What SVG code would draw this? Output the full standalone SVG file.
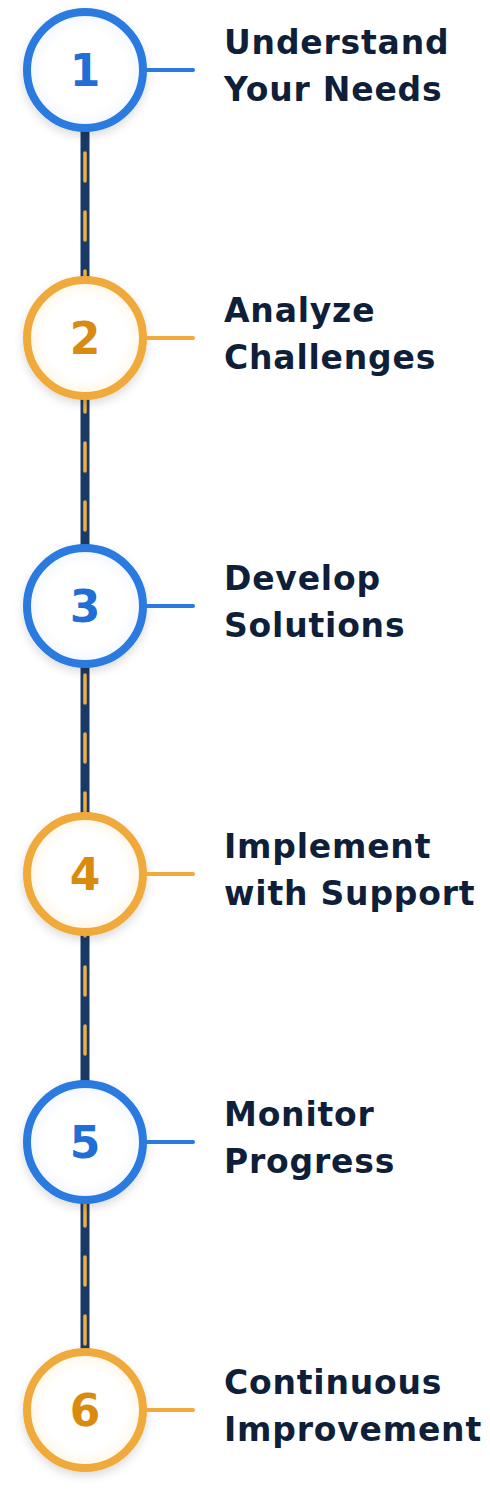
<svg xmlns="http://www.w3.org/2000/svg" width="490" height="1490" viewBox="0 0 490 1490">
<style>
.rail{stroke:#1a3a66;stroke-width:9;fill:none}
.dash{stroke:#f0ae44;stroke-width:3.5;fill:none;stroke-linecap:round;stroke-dasharray:28 31}
.ringB{fill:url(#gB);stroke:#2a7ae0;stroke-width:8}
.ringO{fill:url(#gO);stroke:#f0a93b;stroke-width:8}
.tickB{stroke:#2a7ae0;stroke-width:4;stroke-linecap:round}
.tickO{stroke:#f0a93b;stroke-width:4;stroke-linecap:round}
.numB{font-family:"DejaVu Sans",sans-serif;font-weight:bold;font-size:44px;fill:#1f6fd6;text-anchor:middle}
.numO{font-family:"DejaVu Sans",sans-serif;font-weight:bold;font-size:44px;fill:#d98b10;text-anchor:middle}
.lbl{font-family:"DejaVu Sans",sans-serif;font-weight:bold;font-size:33px;fill:#0f1f3a;letter-spacing:0.8px}
</style>
<defs>
<radialGradient id="gB" cx="50%" cy="50%" r="50%">
<stop offset="0.7" stop-color="#ffffff"/>
<stop offset="1" stop-color="#f1f6fd"/>
</radialGradient>
<radialGradient id="gO" cx="50%" cy="50%" r="50%">
<stop offset="0.7" stop-color="#ffffff"/>
<stop offset="1" stop-color="#fef6e6"/>
</radialGradient>
<filter id="sh" x="-30%" y="-30%" width="160%" height="160%">
<feDropShadow dx="0" dy="4" stdDeviation="5" flood-color="#000000" flood-opacity="0.14"/>
</filter>
</defs>
<g id="connectors">
<line class="rail" x1="85" y1="70" x2="85" y2="338"/>
<line class="dash" x1="85" y1="70" x2="85" y2="338" stroke-dashoffset="35"/>
<line class="rail" x1="85" y1="338" x2="85" y2="606"/>
<line class="dash" x1="85" y1="338" x2="85" y2="606" stroke-dashoffset="13"/>
<line class="rail" x1="85" y1="606" x2="85" y2="874"/>
<line class="dash" x1="85" y1="606" x2="85" y2="874" stroke-dashoffset="49"/>
<line class="rail" x1="85" y1="874" x2="85" y2="1142"/>
<line class="dash" x1="85" y1="874" x2="85" y2="1142" stroke-dashoffset="25"/>
<line class="rail" x1="85" y1="1142" x2="85" y2="1410"/>
<line class="dash" x1="85" y1="1142" x2="85" y2="1410" stroke-dashoffset="3"/>
</g>
<g id="node1">
<circle class="ringB" cx="85" cy="70" r="58" filter="url(#sh)"/>
<line class="tickB" x1="147" y1="70" x2="193" y2="70"/>
<text class="numB" x="85" y="86">1</text>
<text class="lbl" x="224" y="54">Understand</text>
<text class="lbl" x="224" y="101">Your Needs</text>
</g>
<g id="node2">
<circle class="ringO" cx="85" cy="338" r="58" filter="url(#sh)"/>
<line class="tickO" x1="147" y1="338" x2="193" y2="338"/>
<text class="numO" x="85" y="354">2</text>
<text class="lbl" x="224" y="322">Analyze</text>
<text class="lbl" x="224" y="369">Challenges</text>
</g>
<g id="node3">
<circle class="ringB" cx="85" cy="606" r="58" filter="url(#sh)"/>
<line class="tickB" x1="147" y1="606" x2="193" y2="606"/>
<text class="numB" x="85" y="622">3</text>
<text class="lbl" x="224" y="590">Develop</text>
<text class="lbl" x="224" y="637">Solutions</text>
</g>
<g id="node4">
<circle class="ringO" cx="85" cy="874" r="58" filter="url(#sh)"/>
<line class="tickO" x1="147" y1="874" x2="193" y2="874"/>
<text class="numO" x="85" y="890">4</text>
<text class="lbl" x="224" y="858">Implement</text>
<text class="lbl" x="224" y="905">with Support</text>
</g>
<g id="node5">
<circle class="ringB" cx="85" cy="1142" r="58" filter="url(#sh)"/>
<line class="tickB" x1="147" y1="1142" x2="193" y2="1142"/>
<text class="numB" x="85" y="1158">5</text>
<text class="lbl" x="224" y="1126">Monitor</text>
<text class="lbl" x="224" y="1173">Progress</text>
</g>
<g id="node6">
<circle class="ringO" cx="85" cy="1410" r="58" filter="url(#sh)"/>
<line class="tickO" x1="147" y1="1410" x2="193" y2="1410"/>
<text class="numO" x="85" y="1426">6</text>
<text class="lbl" x="224" y="1394">Continuous</text>
<text class="lbl" x="224" y="1441">Improvement</text>
</g>
</svg>
